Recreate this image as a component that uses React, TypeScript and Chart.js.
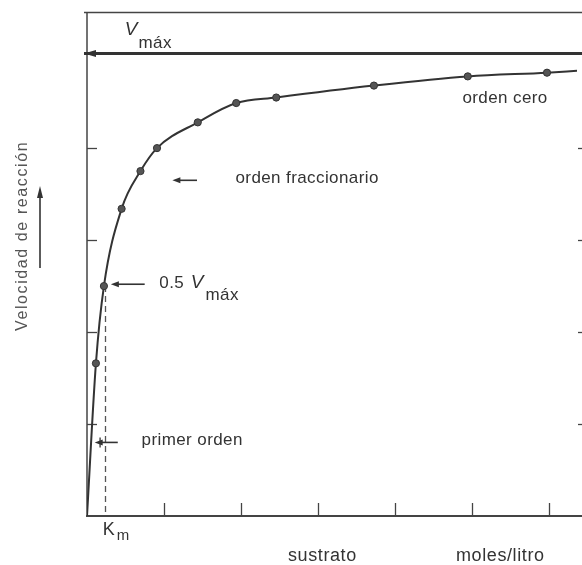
import React, { useEffect, useRef } from "react";
import { Chart, registerables } from "chart.js";

Chart.register(...registerables);

// Substrate concentration (arbitrary units along the x axis) and measured reaction velocity
const substrate = [0.116, 0.22, 0.45, 0.695, 0.91, 1.44, 1.94, 2.46, 3.73, 4.95, 5.98];
const velocity = [1.66, 2.5, 3.34, 3.75, 4.0, 4.28, 4.49, 4.55, 4.68, 4.78, 4.82];
// Fitted curve: starts at origin, passes through measurements, runs to right edge
const curveStart = [0, 0];
const curveEnd = [6.37, 4.84];
const vmax = 5.03;
const halfVmax = 2.5;
const km = 0.23;
const xTicks = [1, 2, 3, 4, 5, 6];
const yTicks = [1, 2, 3, 4];

const FONT = "'Liberation Sans', Arial, sans-serif";
const INK = "#333";

function arrowLeft(ctx: CanvasRenderingContext2D, x1: number, x2: number, y: number) {
  ctx.save();
  ctx.strokeStyle = INK;
  ctx.fillStyle = INK;
  ctx.lineWidth = 1.6;
  ctx.beginPath();
  ctx.moveTo(x1, y);
  ctx.lineTo(x2 + 6, y);
  ctx.stroke();
  ctx.beginPath();
  ctx.moveTo(x2, y);
  ctx.lineTo(x2 + 8, y - 3);
  ctx.lineTo(x2 + 8, y + 3);
  ctx.closePath();
  ctx.fill();
  ctx.restore();
}

const decor = {
  id: "decor",
  beforeDraw(chart: any) {
    const ctx = chart.ctx as CanvasRenderingContext2D;
    ctx.save();
    ctx.fillStyle = "#fff";
    ctx.fillRect(0, 0, chart.width, chart.height);
    ctx.restore();
  },
  beforeDatasetsDraw(chart: any) {
    const ctx = chart.ctx as CanvasRenderingContext2D;
    const xs = chart.scales.x;
    const ys = chart.scales.y;
    const X = (v: number) => xs.getPixelForValue(v);
    const Y = (v: number) => ys.getPixelForValue(v);
    const left = X(0);
    const bottom = Y(0);
    const top = chart.chartArea.top;
    const right = chart.width;
    ctx.save();
    ctx.strokeStyle = "#444";
    ctx.lineWidth = 1.3;
    ctx.beginPath();
    ctx.moveTo(left - 3, top + 0.5);
    ctx.lineTo(right, top + 0.5);
    ctx.stroke();
    ctx.lineWidth = 1.5;
    ctx.beginPath();
    ctx.moveTo(left, top);
    ctx.lineTo(left, bottom);
    ctx.stroke();
    ctx.lineWidth = 2;
    ctx.beginPath();
    ctx.moveTo(left - 1, bottom);
    ctx.lineTo(right, bottom);
    ctx.stroke();
    ctx.lineWidth = 1.3;
    yTicks.forEach((t) => {
      const y = Math.round(Y(t)) + 0.5;
      ctx.beginPath();
      ctx.moveTo(left, y);
      ctx.lineTo(left + 10, y);
      ctx.stroke();
      ctx.beginPath();
      ctx.moveTo(right - 4, y);
      ctx.lineTo(right, y);
      ctx.stroke();
    });
    xTicks.forEach((t) => {
      const x = Math.round(X(t)) + 0.5;
      ctx.beginPath();
      ctx.moveTo(x, bottom);
      ctx.lineTo(x, bottom - 13);
      ctx.stroke();
    });
    // Vmax line
    ctx.strokeStyle = INK;
    ctx.fillStyle = INK;
    ctx.lineWidth = 3;
    ctx.beginPath();
    ctx.moveTo(left - 3, Y(vmax));
    ctx.lineTo(right, Y(vmax));
    ctx.stroke();
    ctx.beginPath();
    ctx.moveTo(left - 3, Y(vmax));
    ctx.lineTo(left + 9, Y(vmax) - 3.5);
    ctx.lineTo(left + 9, Y(vmax) + 3.5);
    ctx.closePath();
    ctx.fill();
    // Km dashed line
    ctx.strokeStyle = "#555";
    ctx.lineWidth = 1.3;
    ctx.setLineDash([6, 4]);
    ctx.beginPath();
    ctx.moveTo(Math.round(X(km)) + 0.5, Y(halfVmax));
    ctx.lineTo(Math.round(X(km)) + 0.5, bottom);
    ctx.stroke();
    ctx.setLineDash([]);
    ctx.restore();
  },
  afterDraw(chart: any) {
    const ctx = chart.ctx as CanvasRenderingContext2D;
    const xs = chart.scales.x;
    const ys = chart.scales.y;
    const X = (v: number) => xs.getPixelForValue(v);
    const Y = (v: number) => ys.getPixelForValue(v);
    const bottom = Y(0);
    ctx.save();
    ctx.fillStyle = INK;
    ctx.textAlign = "left";
    ctx.textBaseline = "alphabetic";
    (ctx as any).letterSpacing = "0.4px";

    // V max (top)
    ctx.font = `italic 19px ${FONT}`;
    ctx.fillText("V", X(0.49), Y(5.23));
    ctx.font = `17px ${FONT}`;
    ctx.fillText("máx", X(0.67), Y(5.09));

    ctx.fillText("orden cero", X(4.88), Y(4.49));

    ctx.fillText("orden fraccionario", X(1.93), Y(3.62));
    arrowLeft(ctx, X(1.43), X(1.11), Y(3.65));

    // 0.5 V max
    ctx.font = `17px ${FONT}`;
    ctx.fillText("0.5", X(0.94), Y(2.48));
    ctx.font = `italic 19px ${FONT}`;
    ctx.fillText("V", X(1.35), Y(2.48));
    ctx.font = `17px ${FONT}`;
    ctx.fillText("máx", X(1.54), Y(2.35));
    arrowLeft(ctx, X(0.75), X(0.31), Y(2.52));

    // primer orden
    ctx.fillText("primer orden", X(0.71), Y(0.77));
    arrowLeft(ctx, X(0.4), X(0.1), Y(0.8));
    ctx.strokeStyle = INK;
    ctx.lineWidth = 1.3;
    ctx.beginPath();
    ctx.moveTo(X(0.17), Y(0.8) - 5);
    ctx.lineTo(X(0.17), Y(0.8) + 5);
    ctx.stroke();

    // Km
    ctx.font = `18px ${FONT}`;
    ctx.fillText("K", X(km) - 2, bottom + 19);
    ctx.font = `15px ${FONT}`;
    ctx.fillText("m", X(km) + 12, bottom + 24);

    // x labels
    ctx.font = `18px ${FONT}`;
    (ctx as any).letterSpacing = "0.6px";
    ctx.fillText("sustrato", 288, 561);
    ctx.fillText("moles/litro", 456, 561);

    // y label
    ctx.save();
    ctx.fillStyle = "#555";
    ctx.font = `16px ${FONT}`;
    (ctx as any).letterSpacing = "1.6px";
    ctx.translate(27, 331);
    ctx.rotate(-Math.PI / 2);
    ctx.fillText("Velocidad de reacción", 0, 0);
    ctx.restore();

    // y arrow
    ctx.strokeStyle = INK;
    ctx.fillStyle = INK;
    ctx.lineWidth = 1.6;
    ctx.beginPath();
    ctx.moveTo(40, 268);
    ctx.lineTo(40, 196);
    ctx.stroke();
    ctx.beginPath();
    ctx.moveTo(40, 186);
    ctx.lineTo(37, 198);
    ctx.lineTo(43, 198);
    ctx.closePath();
    ctx.fill();
    ctx.restore();
  },
};

export default function App() {
  const ref = useRef<HTMLCanvasElement | null>(null);
  useEffect(() => {
    if (!ref.current) return;
    const curve = [
      { x: curveStart[0], y: curveStart[1] },
      ...substrate.map((x, i) => ({ x, y: velocity[i] })),
      { x: curveEnd[0], y: curveEnd[1] },
    ];
    const points = substrate.map((x, i) => ({ x, y: velocity[i] }));
    const chart = new Chart(ref.current, {
      type: "line",
      data: {
        datasets: [
          {
            data: points,
            showLine: false,
            pointRadius: 3.6,
            pointBackgroundColor: "#555",
            pointBorderColor: "#333",
            pointBorderWidth: 1,
          },
          {
            data: curve,
            borderColor: INK,
            borderWidth: 2,
            pointRadius: 0,
            cubicInterpolationMode: "monotone",
            fill: false,
          },
        ],
      },
      options: {
        responsive: false,
        animation: false,
        events: [],
        layout: { padding: { left: 87, top: 12, right: 0, bottom: 49 } },
        scales: {
          x: { type: "linear", min: 0, max: 6.37, display: false },
          y: { type: "linear", min: 0, max: 5.48, display: false },
        },
        plugins: { legend: { display: false }, tooltip: { enabled: false } },
      },
      plugins: [decor],
    });
    return () => chart.destroy();
  }, []);
  return (
    <div style={{ position: "absolute", left: 0, top: 0, width: 582, height: 565 }}>
      <canvas ref={ref} width={582} height={565} />
    </div>
  );
}
